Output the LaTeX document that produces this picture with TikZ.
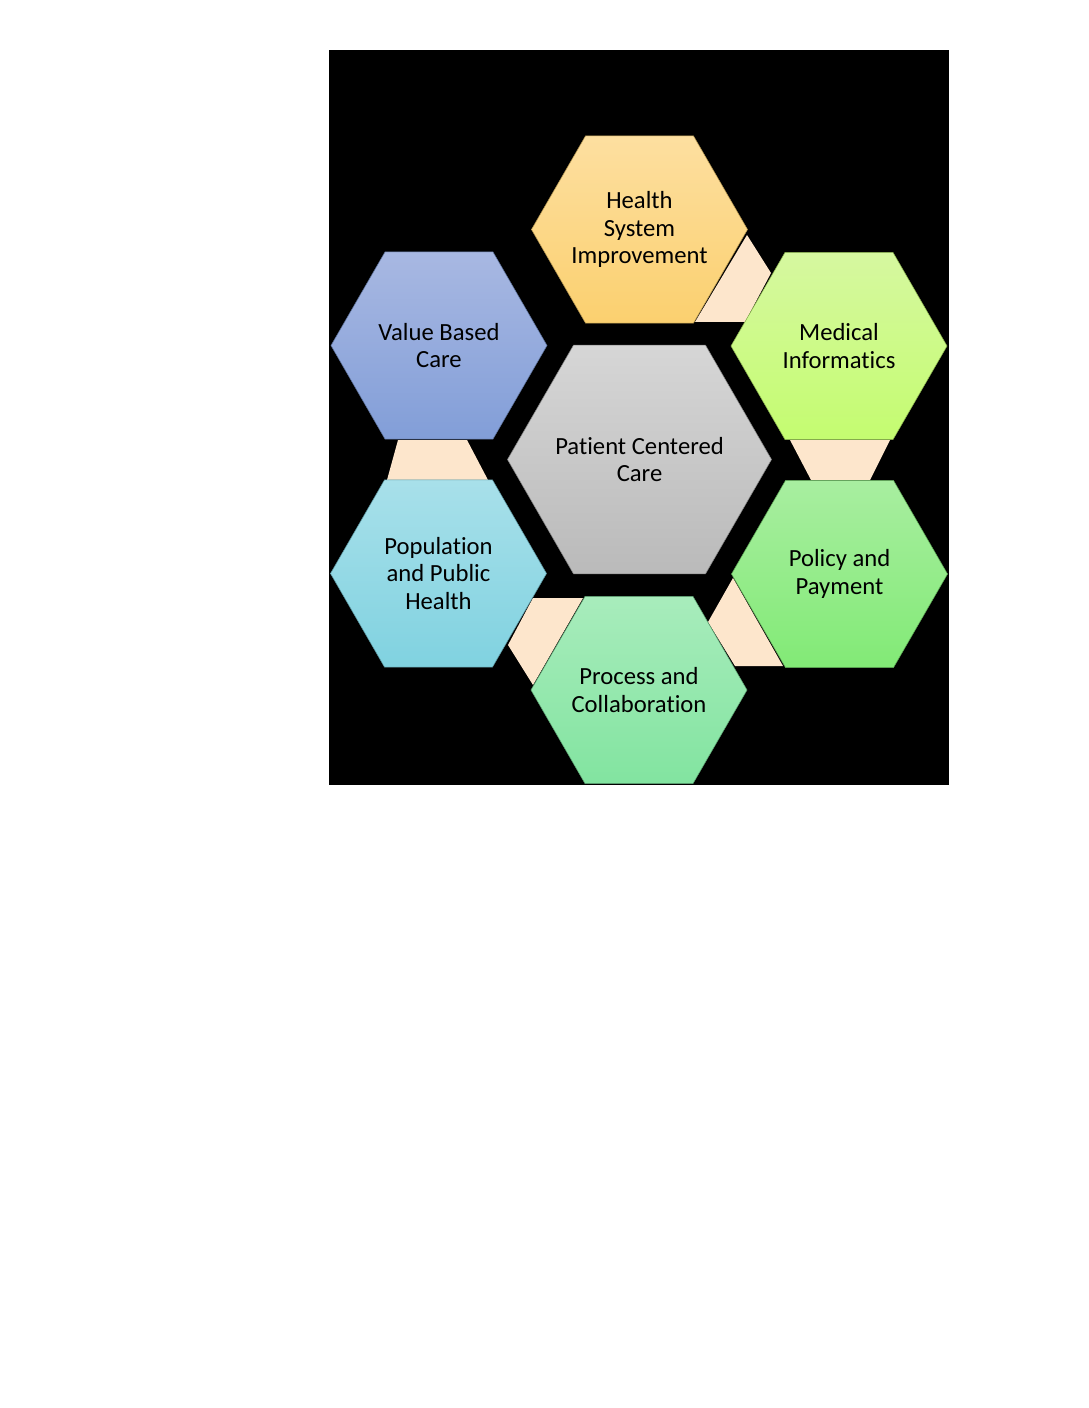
\documentclass[tikz,border=0pt]{standalone}
\usepackage{fontspec}
\setmainfont{Carlito}[Ligatures=NoCommon]
\usepackage{tikz}
\usetikzlibrary{shapes.geometric}
\definecolor{hsiTop}{HTML}{FDDFA0}
\definecolor{hsiBot}{HTML}{FBD06F}
\definecolor{miTop}{HTML}{D6F8A0}
\definecolor{miBot}{HTML}{C4FC70}
\definecolor{ppTop}{HTML}{A8EEA0}
\definecolor{ppBot}{HTML}{82EA76}
\definecolor{pcTop}{HTML}{A8ECBC}
\definecolor{pcBot}{HTML}{82E4A0}
\definecolor{pphTop}{HTML}{A8E0EA}
\definecolor{pphBot}{HTML}{80D2E0}
\definecolor{vbcTop}{HTML}{A8B8E2}
\definecolor{vbcBot}{HTML}{829ED8}
\definecolor{pccTop}{HTML}{D6D6D6}
\definecolor{pccBot}{HTML}{BABABA}
\definecolor{linkFill}{HTML}{FDE6CC}

\begin{document}
\begin{tikzpicture} %
		[
			x=0.75pt, y=-0.75pt,
			font={\fontsize{18.5}{20.6}\selectfont},
			every node/.style={align=center},
			hexa/.style 2 args={
				regular polygon,
				regular polygon sides=6,
				draw=#2!70!black,
				line width=0.4pt,
				inner sep=-14pt,% keep the size fixed by minimum size
				outer sep=0pt,
				minimum size=162pt,
				top color=#1,
				bottom color=#2,
			},
			bighexa/.style={minimum size=198pt},
			link/.style={fill=linkFill},
		]
		\useasboundingbox (0,0) rectangle (1088,1408);
		\fill[black] (329,50) rectangle (949,785);
		% links behind the ring
		\fill[link] (747,235) -- (771,273) -- (745,322) -- (695,322) -- cycle;
		\fill[link] (790,440) -- (890,440) -- (870,480) -- (811,480) -- cycle;
		\fill[link] (733,578) -- (783,666) -- (735,666) -- (708,622) -- cycle;
		\fill[link] (533,598) -- (583,598) -- (533,685) -- (508,645) -- cycle;
		\fill[link] (398,440) -- (467,440) -- (488,480) -- (387,480) -- cycle;
		\node[hexa={pccTop}{pccBot}, bighexa] 
		(pcc) at (639.5,459.5) {Patient Centered\\Care};
		\node[hexa={hsiTop}{hsiBot}] 
		(hsi) at (639.5,229.5) {Health\\System\\Improvement};
		\node[hexa={miTop}{miBot}] 
		(mi) at (839,346) {Medical\\Informatics};
		\node[hexa={ppTop}{ppBot}] 
		(pp) at (839.5,574) {Policy and\\Payment};
		\node[hexa={pcTop}{pcBot}] 
		(pc) at (639,690) {Process and\\Collaboration};
		\node[hexa={pphTop}{pphBot}] 
		(pph) at (438.5,573.5) {Population\\and Public\\Health};
		\node[hexa={vbcTop}{vbcBot}] 
		(vbc) at (439,345.5) {Value Based\\Care};
	\end{tikzpicture}
\end{document}
